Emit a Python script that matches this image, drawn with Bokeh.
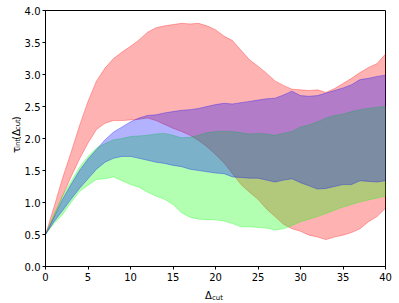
import math
from bokeh.plotting import figure
from bokeh.models import Range1d, FixedTicker
from bokeh.layouts import column, row
from bokeh.core.properties import value
from bokeh.embed import file_html
from bokeh.resources import INLINE

# ---- data ----
delta_cut = list(range(0, 41))

red_upper = [0.50, 0.93, 1.38, 1.78, 2.20, 2.58, 2.90, 3.10, 3.25, 3.35, 3.44, 3.54, 3.66, 3.73,
             3.76, 3.78, 3.80, 3.79, 3.80, 3.76, 3.70, 3.60, 3.53, 3.38, 3.23, 3.13, 3.02, 2.90,
             2.83, 2.77, 2.76, 2.75, 2.76, 2.72, 2.78, 2.86, 2.94, 3.03, 3.11, 3.17, 3.32]
red_lower = [0.50, 0.78, 1.10, 1.40, 1.68, 1.93, 2.14, 2.24, 2.28, 2.28, 2.29, 2.30, 2.32, 2.28,
             2.22, 2.16, 2.11, 2.05, 1.97, 1.87, 1.75, 1.62, 1.45, 1.28, 1.16, 1.05, 0.90, 0.78,
             0.66, 0.59, 0.55, 0.49, 0.46, 0.42, 0.46, 0.49, 0.53, 0.59, 0.70, 0.78, 0.91]

blue_upper = [0.50, 0.77, 1.05, 1.28, 1.50, 1.68, 1.83, 1.98, 2.10, 2.18, 2.26, 2.32, 2.36, 2.37,
              2.40, 2.42, 2.44, 2.45, 2.47, 2.50, 2.53, 2.55, 2.54, 2.56, 2.58, 2.60, 2.62, 2.63,
              2.68, 2.74, 2.67, 2.66, 2.67, 2.71, 2.75, 2.79, 2.84, 2.92, 2.94, 2.97, 2.99]
blue_lower = [0.50, 0.70, 0.87, 1.05, 1.22, 1.37, 1.52, 1.63, 1.69, 1.72, 1.72, 1.69, 1.66, 1.63,
              1.61, 1.58, 1.56, 1.52, 1.50, 1.48, 1.46, 1.45, 1.40, 1.39, 1.38, 1.38, 1.35, 1.32,
              1.35, 1.37, 1.31, 1.26, 1.21, 1.22, 1.25, 1.28, 1.28, 1.34, 1.33, 1.32, 1.34]

green_upper = [0.50, 0.82, 1.10, 1.33, 1.55, 1.72, 1.85, 1.92, 1.98, 2.00, 2.03, 2.04, 2.05, 2.07,
               2.08, 2.05, 2.01, 2.02, 2.05, 2.09, 2.11, 2.11, 2.11, 2.09, 2.07, 2.08, 2.07, 2.05,
               2.08, 2.11, 2.18, 2.21, 2.26, 2.32, 2.36, 2.38, 2.42, 2.45, 2.47, 2.49, 2.50]
green_lower = [0.50, 0.67, 0.81, 1.00, 1.17, 1.27, 1.36, 1.37, 1.40, 1.34, 1.28, 1.24, 1.16, 1.10,
               1.05, 0.97, 0.84, 0.77, 0.74, 0.73, 0.73, 0.71, 0.67, 0.62, 0.62, 0.61, 0.60, 0.57,
               0.59, 0.64, 0.70, 0.74, 0.78, 0.83, 0.88, 0.93, 0.97, 1.01, 1.04, 1.07, 1.10]

x_ticks = [0, 5, 10, 15, 20, 25, 30, 35, 40]
y_ticks = [0.0, 0.5, 1.0, 1.5, 2.0, 2.5, 3.0, 3.5, 4.0]
y_tick_labels = ["0.0", "0.5", "1.0", "1.5", "2.0", "2.5", "3.0", "3.5", "4.0"]

# axis label pieces: (text, is_subscript)
x_label_parts = [("Δ", False), ("cut", True)]
y_label_parts = [("τ", False), ("int", True), ("(Δ", False), ("cut", True), (")", False)]

bands = [
    (red_upper, red_lower, "#ff0000"),
    (green_upper, green_lower, "#00ff00"),
    (blue_upper, blue_lower, "#0000ff"),
]

FONT = "DejaVu Sans"
MAIN_PX = 10.0
SUB_PX = 7.0
# approximate DejaVu Sans advance widths (em)
ADV = {"Δ": 0.684, "τ": 0.56, "(": 0.39, ")": 0.39, "c": 0.55, "u": 0.634, "t": 0.392,
       "i": 0.278, "n": 0.634}

def text_width(s, px):
    return sum(ADV.get(ch, 0.6) for ch in s) * px

# ---- layout sizes (page pixels) ----
W_TOTAL, H_TOTAL = 399, 303
YLAB_W = 21
MAIN_H = 285
XLAB_H = H_TOTAL - MAIN_H

# ---- main plot ----
p = figure(width=W_TOTAL - YLAB_W, height=MAIN_H, output_backend="svg", toolbar_location=None,
           x_range=Range1d(0, 40), y_range=Range1d(0, 4),
           min_border_left=21, min_border_right=14, min_border_top=10, min_border_bottom=19)
p.background_fill_color = "white"
p.border_fill_color = "white"
p.outline_line_color = "black"
p.outline_line_width = 1
p.outline_line_alpha = 1
p.grid.visible = False

for up, lo, col in bands:
    xs = delta_cut + delta_cut[::-1]
    ys = up + lo[::-1]
    p.patch(xs, ys, fill_color=col, fill_alpha=0.3, line_color=col, line_alpha=0.3, line_width=1)

for ax in (p.xaxis[0], p.yaxis[0]):
    ax.axis_line_color = "black"
    ax.major_tick_line_color = "black"
    ax.major_tick_in = 0
    ax.major_tick_out = 3
    ax.minor_tick_line_color = None
    ax.major_label_text_font = FONT
    ax.major_label_text_font_size = "10px"
    ax.major_label_text_color = "black"

p.xaxis[0].ticker = FixedTicker(ticks=x_ticks)
p.xaxis[0].major_label_standoff = 3
p.yaxis[0].ticker = FixedTicker(ticks=y_ticks)
p.yaxis[0].major_label_overrides = {t: s for t, s in zip(y_ticks, y_tick_labels)}
p.yaxis[0].major_label_standoff = 2


def helper(w, h):
    f = figure(width=w, height=h, output_backend="svg", toolbar_location=None,
               x_range=Range1d(0, w), y_range=Range1d(0, h),
               x_axis_location=None, y_axis_location=None,
               min_border=0, min_border_left=0, min_border_right=0,
               min_border_top=0, min_border_bottom=0)
    f.outline_line_color = None
    f.grid.visible = False
    f.background_fill_color = "white"
    f.border_fill_color = "white"
    return f

# ---- y label (rotated, reading upward) ----
ylab = helper(YLAB_W, MAIN_H)
y_total = sum(text_width(t, SUB_PX if s else MAIN_PX) for t, s in y_label_parts)
y_center = MAIN_H - 138.5          # page y of label centre
pos = y_center - y_total / 2
base_x = 15.5
for t, s in y_label_parts:
    ylab.text(x=[base_x + (2.3 if s else 0.0)], y=[pos], text=[t], angle=math.pi / 2,
              text_font=value(FONT), text_font_size=f"{SUB_PX if s else MAIN_PX}px",
              text_color="black", text_align="left", text_baseline="alphabetic")
    pos += text_width(t, SUB_PX if s else MAIN_PX)

# ---- x label ----
xlab = helper(W_TOTAL, XLAB_H)
x_total = sum(text_width(t, SUB_PX if s else MAIN_PX) for t, s in x_label_parts)
pos = 213.5 - x_total / 2
for t, s in x_label_parts:
    xlab.text(x=[pos], y=[XLAB_H - 10.0 - (2.0 if s else 0.0)], text=[t],
              text_font=value(FONT), text_font_size=f"{SUB_PX if s else MAIN_PX}px",
              text_color="black", text_align="left", text_baseline="alphabetic")
    pos += text_width(t, SUB_PX if s else MAIN_PX)

layout = column(row(ylab, p, spacing=0), xlab, spacing=0)
open("out.html", "w").write(file_html(layout, INLINE))
